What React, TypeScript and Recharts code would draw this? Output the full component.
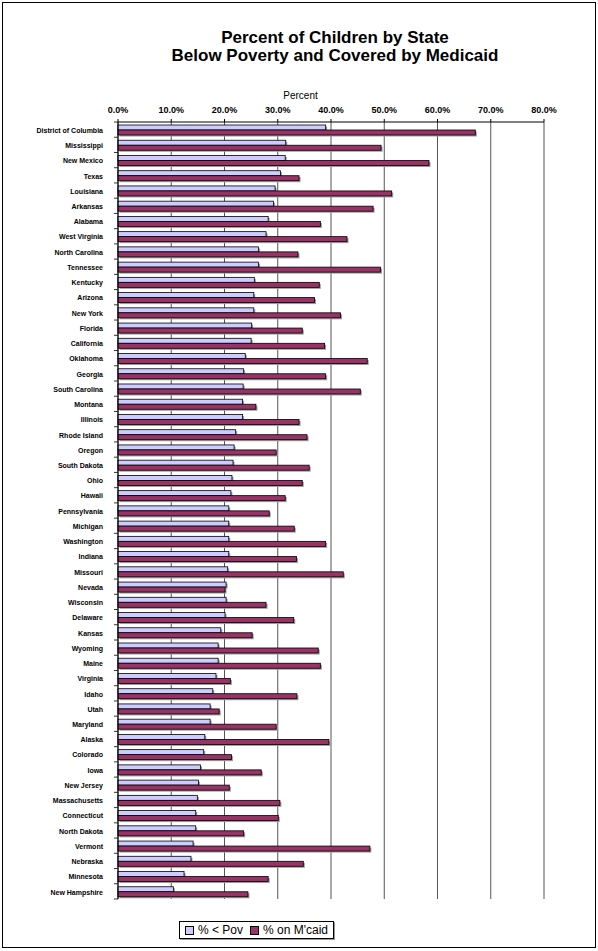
import { BarChart, Bar, XAxis, YAxis, CartesianGrid } from 'recharts';

const states = [
  'District of Columbia', 'Mississippi', 'New Mexico', 'Texas', 'Louisiana', 'Arkansas', 'Alabama',
  'West Virginia', 'North Carolina', 'Tennessee', 'Kentucky', 'Arizona', 'New York', 'Florida',
  'California', 'Oklahoma', 'Georgia', 'South Carolina', 'Montana', 'Illinois', 'Rhode Island',
  'Oregon', 'South Dakota', 'Ohio', 'Hawaii', 'Pennsylvania', 'Michigan', 'Washington', 'Indiana',
  'Missouri', 'Nevada', 'Wisconsin', 'Delaware', 'Kansas', 'Wyoming', 'Maine', 'Virginia', 'Idaho',
  'Utah', 'Maryland', 'Alaska', 'Colorado', 'Iowa', 'New Jersey', 'Massachusetts', 'Connecticut',
  'North Dakota', 'Vermont', 'Nebraska', 'Minnesota', 'New Hampshire',
];

// % of children below poverty
const belowPoverty = [
  39.0, 31.5, 31.4, 30.5, 29.5, 29.2, 28.2, 27.8, 26.4, 26.4, 25.6, 25.5, 25.5, 25.1, 25.0, 23.9,
  23.6, 23.5, 23.4, 23.4, 22.1, 21.8, 21.6, 21.4, 21.2, 20.8, 20.8, 20.8, 20.8, 20.6, 20.3, 20.3,
  20.1, 19.3, 18.8, 18.8, 18.4, 17.8, 17.3, 17.3, 16.3, 16.1, 15.5, 15.1, 14.9, 14.6, 14.6, 14.1,
  13.7, 12.4, 10.4,
];

// % of children covered by Medicaid
const onMedicaid = [
  67.1, 49.4, 58.4, 34.0, 51.4, 47.9, 38.0, 43.0, 33.8, 49.3, 37.8, 36.9, 41.8, 34.6, 38.8, 46.8,
  39.0, 45.5, 25.9, 34.0, 35.5, 29.7, 35.9, 34.6, 31.4, 28.4, 33.1, 39.0, 33.5, 42.3, 20.1, 27.8,
  33.0, 25.2, 37.6, 38.0, 21.1, 33.6, 19.0, 29.7, 39.6, 21.3, 26.9, 20.9, 30.4, 30.1, 23.6, 47.3,
  34.8, 28.2, 24.4,
];

const xTicks = [0, 10, 20, 30, 40, 50, 60, 70, 80];

const data = states.map((state, i) => ({
  state,
  pov: belowPoverty[i],
  mcaid: onMedicaid[i],
}));

const FONT = '"Liberation Sans", Arial, sans-serif';
const PLOT_TOP = 122;
const PLOT_BOTTOM = 899;
const PLOT_LEFT = 118;
const HALF_BAND = (PLOT_BOTTOM - PLOT_TOP) / states.length / 2;

const POV_COLOR = '#ccccff';
const MCAID_COLOR = '#993366';

// bar with the little grey drop shadow Excel draws
const ShadowBar = (props: any) => {
  const { x, y, width, height, fill } = props;
  if (!width || width <= 0) return null;
  return (
    <g>
      <rect x={x + 1.5} y={y + 1.5} width={width} height={height} fill="#9a9a9a" />
      <rect x={x} y={y} width={width} height={height} fill={fill} stroke="#000" strokeWidth={0.8} />
    </g>
  );
};

const StateTick = (props: any) => {
  const { y, payload, index } = props;
  return (
    <g>
      <line x1={PLOT_LEFT - 4} x2={PLOT_LEFT} y1={y - HALF_BAND} y2={y - HALF_BAND} stroke="#000" strokeWidth={0.8} />
      {index === states.length - 1 && (
        <line x1={PLOT_LEFT - 4} x2={PLOT_LEFT} y1={y + HALF_BAND} y2={y + HALF_BAND} stroke="#000" strokeWidth={0.8} />
      )}
      <text x={103} y={y} dy={3.2} textAnchor="end" fontSize={7} fontWeight="bold" fill="#000" fontFamily={FONT}>
        {payload.value}
      </text>
    </g>
  );
};

const Swatch = ({ color }: { color: string }) => (
  <span style={{ width: 7, height: 7, background: color, border: '1px solid #000', display: 'inline-block' }} />
);

const titleLine = {
  position: 'absolute' as const,
  left: 0,
  width: 670,
  textAlign: 'center' as const,
  fontWeight: 'bold',
  fontSize: 17,
  lineHeight: '17px',
  height: 17,
};

export default function App() {
  return (
    <div style={{ position: 'relative', width: 598, height: 951, background: '#fff', fontFamily: FONT }}>
      <style>{'body { margin: 0; }'}</style>
      <div
        style={{
          position: 'absolute',
          left: 2,
          top: 2,
          width: 594,
          height: 946,
          border: '1px solid #000',
          boxSizing: 'border-box',
        }}
      />
      <div style={{ ...titleLine, top: 29 }}>Percent of Children by State</div>
      <div style={{ ...titleLine, top: 47 }}>Below Poverty and Covered by Medicaid</div>
      <div style={{ position: 'absolute', left: 0, width: 601, top: 90, textAlign: 'center', fontSize: 10 }}>
        Percent
      </div>

      <BarChart
        width={598}
        height={951}
        data={data}
        layout="vertical"
        barSize={5}
        barGap={0}
        margin={{ top: 80, right: 54, bottom: 52, left: 18 }}
        style={{ position: 'absolute', left: 0, top: 0 }}
      >
        <CartesianGrid horizontal={false} stroke="#555" strokeWidth={1} />
        <XAxis
          type="number"
          orientation="top"
          domain={[0, 80]}
          ticks={xTicks}
          height={42}
          tickFormatter={(v: number) => `${v.toFixed(1)}%`}
          tick={{ fontSize: 9, fontWeight: 'bold', fill: '#000', fontFamily: FONT }}
          tickSize={3}
          tickMargin={6}
          axisLine={{ stroke: '#000' }}
          tickLine={{ stroke: '#000' }}
        />
        <XAxis
          xAxisId="b"
          type="number"
          orientation="bottom"
          domain={[0, 80]}
          height={0}
          tick={false}
          tickLine={false}
          axisLine={{ stroke: '#888' }}
        />
        <YAxis
          type="category"
          dataKey="state"
          width={100}
          interval={0}
          axisLine={{ stroke: '#000' }}
          tickLine={false}
          tick={<StateTick />}
        />
        <Bar dataKey="pov" name="% < Pov" fill={POV_COLOR} shape={<ShadowBar />} isAnimationActive={false} />
        <Bar dataKey="mcaid" name="% on M'caid" fill={MCAID_COLOR} shape={<ShadowBar />} isAnimationActive={false} />
      </BarChart>

      <div
        style={{
          position: 'absolute',
          left: 179,
          top: 921,
          display: 'flex',
          alignItems: 'center',
          gap: 7,
          border: '1px solid #000',
          boxShadow: '1px 1px 0 #999',
          background: '#fff',
          padding: '0 5px',
          fontSize: 12,
          height: 18,
          boxSizing: 'border-box',
        }}
      >
        <span style={{ display: 'flex', alignItems: 'center', gap: 4 }}>
          <Swatch color={POV_COLOR} />% &lt; Pov
        </span>
        <span style={{ display: 'flex', alignItems: 'center', gap: 4 }}>
          <Swatch color={MCAID_COLOR} />% on M'caid
        </span>
      </div>
    </div>
  );
}
